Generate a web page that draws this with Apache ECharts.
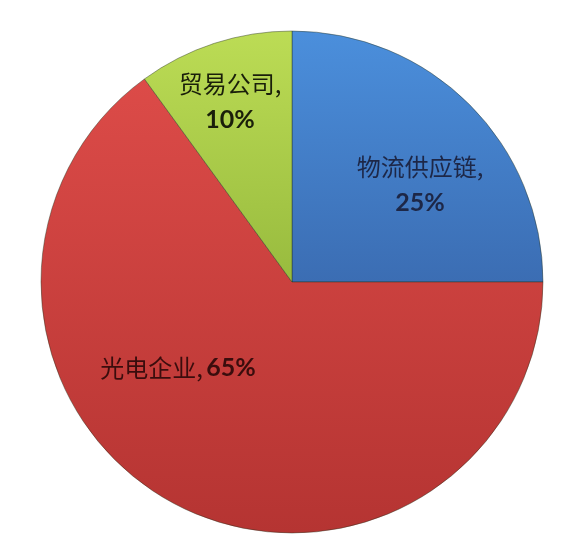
<!DOCTYPE html>
<html>
<head>
<meta charset="utf-8">
<script src="https://cdn.jsdelivr.net/npm/echarts@6/dist/echarts.min.js"></script>
<style>
html,body{margin:0;padding:0;background:#fff;}
#c{width:566px;height:558px;}
</style>
</head>
<body>
<div id="c"></div>
<script>
var categories = ['物流供应链', '光电企业', '贸易公司'];
var values = [25, 65, 10];
var percentLabels = ['25%', '65%', '10%'];

var chart = echarts.init(document.getElementById('c'));
var G = echarts.graphic.LinearGradient;
var fills = [
  new G(0, 0, 0, 1, [{offset: 0, color: '#4b8fdc'}, {offset: 1, color: '#3b6db3'}]),
  new G(0, 0, 0, 1, [{offset: 0, color: '#dc4b48'}, {offset: 1, color: '#b53432'}]),
  new G(0, 0, 0, 1, [{offset: 0, color: '#bcdc55'}, {offset: 1, color: '#98bb3e'}])
];
var textColors = ['#1d2747', '#3a0d0d', '#1a1f0a'];
var labelPos = [[420, 185], [178, 368], [230, 102]];
var twoLine = [true, false, true];

var data = categories.map(function (name, i) {
  return {
    name: name,
    value: values[i],
    itemStyle: {color: fills[i], borderColor: 'rgba(40,50,30,0.55)', borderWidth: 0.8},
    label: {
      formatter: '{n|' + name + ',}' + (twoLine[i] ? '\n' : ' ') + '{p|' + percentLabels[i] + '}',
      rich: {
        n: {fontFamily: '"Noto Sans CJK SC"', fontSize: 24, color: textColors[i], lineHeight: 36},
        p: {fontFamily: 'Lato', fontWeight: 'bold', fontSize: 25, color: textColors[i], lineHeight: 36}
      }
    }
  };
});

chart.setOption({
  backgroundColor: '#ffffff',
  animation: false,
  series: [{
    type: 'pie',
    center: [292, 282],
    radius: [0, 251],
    startAngle: 90,
    clockwise: true,
    data: data,
    label: {show: true, position: 'inside', align: 'center'},
    labelLine: {show: false},
    labelLayout: function (p) {
      var pos = labelPos[p.dataIndex];
      return {x: pos[0], y: pos[1], align: 'center', verticalAlign: 'middle'};
    },
    emphasis: {disabled: true}
  }]
});
</script>
</body>
</html>
